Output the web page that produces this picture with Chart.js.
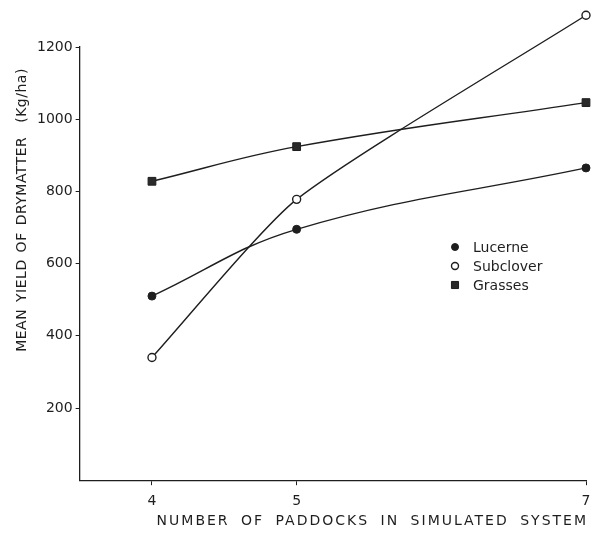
<!DOCTYPE html>
<html>
<head>
<meta charset="utf-8">
<script src="https://cdn.jsdelivr.net/npm/chart.js@4.4.1/dist/chart.umd.min.js"></script>
<style>
    body { margin: 0; background: #fff; }
    #chartBox { width: 609px; height: 537px; }
</style>
</head>
<body>
<div id="chartBox"><canvas id="lineYield" width="609" height="537"></canvas></div>
<script>
// dados
const paddocks = [4, 5, 7];
const lucerne = [510, 695, 865];
const subclover = [340, 778, 1288];
const grasses = [828, 924, 1046];
const xTicks = [4, 5, 7];
const yTicks = [200, 400, 600, 800, 1000, 1200];

const xTitle = 'NUMBER OF PADDOCKS IN SIMULATED SYSTEM';
const yTitle = 'MEAN YIELD OF DRYMATTER  (Kg/ha)';

const inkColor = '#1e1e1e';
const fontFamily = "'DejaVu Sans', sans-serif";

function pontos(valores) {
    return paddocks.map((x, i) => ({ x: x, y: valores[i] }));
}

const dataYield = {
    datasets: [{
        label: 'Lucerne',
        data: pontos(lucerne),
        borderColor: inkColor,
        borderWidth: 1.4,
        pointStyle: 'circle',
        pointRadius: 4,
        pointBackgroundColor: inkColor,
        pointBorderColor: inkColor,
        pointBorderWidth: 1,
        tension: 0.4,
        clip: false
    }, {
        label: 'Subclover',
        data: pontos(subclover),
        borderColor: inkColor,
        borderWidth: 1.4,
        pointStyle: 'circle',
        pointRadius: 4,
        pointBackgroundColor: '#fff',
        pointBorderColor: inkColor,
        pointBorderWidth: 1.4,
        tension: 0.2,
        clip: false
    }, {
        label: 'Grasses',
        data: pontos(grasses),
        borderColor: inkColor,
        borderWidth: 1.4,
        pointStyle: 'rect',
        pointRadius: 5.5,
        pointBackgroundColor: '#2a2a2a',
        pointBorderColor: inkColor,
        pointBorderWidth: 1,
        tension: 0.4,
        clip: false
    }]
};

// pontos acima do eixo (subclover 7) nao sao desenhados pelo chart.js
const pontosForaDaArea = {
    id: 'pontosForaDaArea',
    afterDatasetsDraw(chart) {
        const area = chart.chartArea;
        const tudo = { left: 0, top: 0, right: chart.width, bottom: chart.height };
        chart.data.datasets.forEach((ds, i) => {
            chart.getDatasetMeta(i).data.forEach(pt => {
                if (pt.y < area.top || pt.y > area.bottom) {
                    pt.draw(chart.ctx, tudo);
                }
            });
        });
    }
};

// legenda dentro da area do grafico
const legendaInterna = {
    id: 'legendaInterna',
    afterDatasetsDraw(chart) {
        const ctx = chart.ctx;
        ctx.save();
        ctx.font = '14px ' + fontFamily;
        ctx.textBaseline = 'middle';
        ctx.textAlign = 'left';
        chart.data.datasets.forEach((ds, i) => {
            const y = 247 + i * 19;
            ctx.fillStyle = ds.pointBackgroundColor;
            ctx.strokeStyle = ds.pointBorderColor;
            ctx.lineWidth = ds.pointBorderWidth;
            Chart.helpers.drawPoint(ctx, {
                pointStyle: ds.pointStyle,
                radius: ds.pointStyle === 'rect' ? 5 : 3.5,
                rotation: 0,
                borderWidth: ds.pointBorderWidth
            }, 455, y);
            ctx.fillStyle = inkColor;
            ctx.fillText(ds.label, 473, y + 1);
        });
        ctx.restore();
    }
};

// titulos dos eixos
const titulosEixos = {
    id: 'titulosEixos',
    afterDraw(chart) {
        const ctx = chart.ctx;
        ctx.save();
        ctx.fillStyle = inkColor;
        ctx.font = '14px ' + fontFamily;
        ctx.textBaseline = 'middle';
        ctx.letterSpacing = '2px';
        ctx.wordSpacing = '5px';
        ctx.textAlign = 'right';
        ctx.fillText(xTitle, chart.chartArea.right + 2, 521);
        ctx.letterSpacing = '0.5px';
        ctx.wordSpacing = '2px';
        ctx.translate(22, 210);
        ctx.rotate(-Math.PI / 2);
        ctx.textAlign = 'center';
        ctx.fillText(yTitle, 0, 0);
        ctx.restore();
    }
};

const configYield = {
    type: 'line',
    data: dataYield,
    options: {
        responsive: false,
        animation: false,
        layout: {
            padding: { left: 34, right: 23, top: 47, bottom: 19 }
        },
        scales: {
            x: {
                type: 'linear',
                min: 3.5,
                max: 7,
                afterBuildTicks: (scale) => {
                    scale.ticks = xTicks.map(v => ({ value: v }));
                },
                grid: { drawOnChartArea: false, tickLength: 5, color: inkColor },
                border: { color: inkColor, width: 1.3 },
                ticks: {
                    padding: 8,
                    color: inkColor,
                    font: { size: 14, family: fontFamily },
                    callback: (v) => String(v)
                }
            },
            y: {
                min: 0,
                max: 1200,
                afterBuildTicks: (scale) => {
                    scale.ticks = yTicks.map(v => ({ value: v }));
                },
                grid: { drawOnChartArea: false, tickLength: 4, color: inkColor },
                border: { color: inkColor, width: 1.3 },
                ticks: {
                    padding: 3,
                    color: inkColor,
                    font: { size: 14, family: fontFamily },
                    callback: (v) => String(v)
                }
            }
        },
        plugins: {
            legend: { display: false },
            tooltip: { enabled: false }
        }
    },
    plugins: [pontosForaDaArea, legendaInterna, titulosEixos]
};

new Chart(document.getElementById('lineYield').getContext('2d'),
    configYield
);
</script>
</body>
</html>
